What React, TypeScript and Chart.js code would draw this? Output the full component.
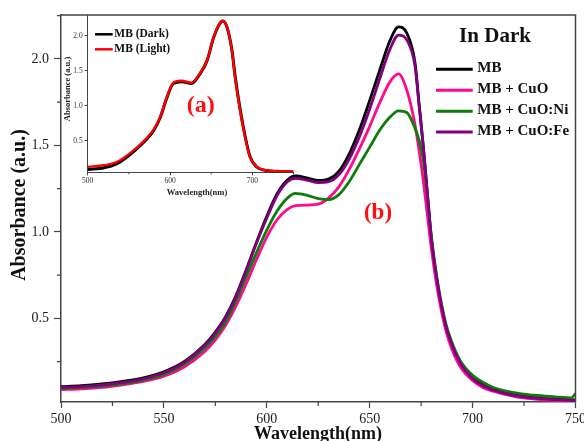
import React, { useEffect, useRef } from 'react';
import { Chart, registerables } from 'chart.js';

Chart.register(...registerables);

// ---------- main chart data ----------
const wavelengths = [500, 510, 520, 530, 540, 550, 560, 570, 575, 580, 585, 590, 595, 600, 605, 610, 614, 620, 625, 630, 635, 640, 645, 650, 655, 660, 664, 668, 672, 674, 676, 678, 680, 683, 687, 690, 694, 700, 705, 710, 720, 730, 740, 748, 750];
const mb = [0.105, 0.11, 0.12, 0.135, 0.155, 0.19, 0.25, 0.35, 0.42, 0.51, 0.63, 0.78, 0.94, 1.09, 1.22, 1.30, 1.323, 1.31, 1.297, 1.305, 1.35, 1.45, 1.59, 1.76, 1.94, 2.11, 2.185, 2.15, 1.98, 1.74, 1.50, 1.22, 0.95, 0.69, 0.45, 0.34, 0.24, 0.155, 0.115, 0.09, 0.06, 0.043, 0.034, 0.029, 0.028];
const mbCuO = [0.087, 0.092, 0.1, 0.115, 0.135, 0.165, 0.22, 0.31, 0.375, 0.46, 0.57, 0.70, 0.84, 0.97, 1.07, 1.13, 1.152, 1.155, 1.16, 1.195, 1.26, 1.36, 1.48, 1.61, 1.75, 1.87, 1.913, 1.82, 1.62, 1.47, 1.30, 1.10, 0.90, 0.66, 0.43, 0.32, 0.22, 0.14, 0.1, 0.078, 0.048, 0.033, 0.025, 0.021, 0.02];
const mbCuONi = [0.095, 0.1, 0.108, 0.122, 0.143, 0.175, 0.235, 0.33, 0.395, 0.48, 0.6, 0.74, 0.88, 1.01, 1.12, 1.195, 1.222, 1.21, 1.192, 1.186, 1.215, 1.29, 1.39, 1.49, 1.59, 1.665, 1.70, 1.69, 1.60, 1.53, 1.42, 1.21, 0.97, 0.71, 0.47, 0.36, 0.255, 0.17, 0.13, 0.1, 0.07, 0.055, 0.046, 0.04, 0.065];
const mbCuOFe = [0.1, 0.105, 0.115, 0.13, 0.15, 0.185, 0.245, 0.345, 0.415, 0.505, 0.625, 0.775, 0.935, 1.08, 1.21, 1.29, 1.31, 1.298, 1.285, 1.29, 1.33, 1.42, 1.55, 1.71, 1.89, 2.06, 2.138, 2.11, 1.96, 1.73, 1.50, 1.23, 0.96, 0.70, 0.455, 0.345, 0.24, 0.15, 0.11, 0.085, 0.055, 0.038, 0.03, 0.025, 0.024];

const seriesNames = ['MB', 'MB + CuO', 'MB + CuO:Ni', 'MB + CuO:Fe'];
const seriesColors = ['#000000', '#ff0a8c', '#0a7d0a', '#800080'];
const legendTitle = 'In Dark';

const xTicks = [500, 550, 600, 650, 700, 750];
const xMinorTicks = [525, 575, 625, 675, 725];
const yTicks = [0.5, 1.0, 1.5, 2.0];
const yMinorTicks = [0.25, 0.75, 1.25, 1.75, 2.25];

// ---------- inset data ----------
const insetWavelengths = [500, 520, 535, 550, 565, 580, 588, 596, 604, 614, 626, 636, 645, 653, 660, 664, 669, 675, 679, 685, 691, 697, 705, 717, 730, 750];
const insetDark = [0.09, 0.115, 0.17, 0.29, 0.445, 0.645, 0.83, 1.11, 1.32, 1.345, 1.32, 1.45, 1.645, 1.975, 2.165, 2.21, 2.13, 1.81, 1.43, 0.96, 0.58, 0.28, 0.13, 0.075, 0.06, 0.055];
const insetLight = [0.128, 0.15, 0.195, 0.31, 0.46, 0.66, 0.84, 1.12, 1.33, 1.357, 1.33, 1.46, 1.65, 1.98, 2.17, 2.214, 2.13, 1.80, 1.41, 0.94, 0.56, 0.27, 0.13, 0.08, 0.07, 0.065];
const insetNames = ['MB (Dark)', 'MB (Light)'];
const insetColors = ['#000000', '#ff0000'];
const insetXTicks = [500, 600, 700];
const insetXMinor = [550, 650, 750];
const insetYTicks = [0.5, 1.0, 1.5, 2.0];

const FONT = "'Liberation Serif', 'Times New Roman', Times, serif";
const AXIS = '#444444';

const mainDecor = {
  id: 'mainDecor',
  afterDraw(chart: any) {
    const { ctx, chartArea } = chart;
    const { left, right, top, bottom } = chartArea;
    const xs = chart.scales.x;
    const ys = chart.scales.y;
    ctx.save();
    // box
    ctx.strokeStyle = AXIS;
    ctx.lineWidth = 1.5;
    ctx.beginPath();
    ctx.moveTo(left - 0.75, top);
    ctx.lineTo(right, top);
    ctx.lineTo(right, bottom);
    ctx.stroke();
    // minor ticks
    ctx.lineWidth = 1.2;
    ctx.beginPath();
    xMinorTicks.forEach((v) => {
      const px = xs.getPixelForValue(v);
      ctx.moveTo(px, bottom);
      ctx.lineTo(px, bottom + 4);
    });
    yMinorTicks.forEach((v) => {
      const py = ys.getPixelForValue(v);
      ctx.moveTo(left - 4, py);
      ctx.lineTo(left, py);
    });
    ctx.stroke();
    // axis titles
    ctx.fillStyle = '#111';
    ctx.textAlign = 'center';
    ctx.textBaseline = 'alphabetic';
    ctx.font = `bold 18px ${FONT}`;
    ctx.fillText('Wavelength(nm)', 318, 439);
    ctx.save();
    ctx.font = `bold 20px ${FONT}`;
    ctx.translate(25, 205);
    ctx.rotate(-Math.PI / 2);
    ctx.fillText('Absorbance (a.u.)', 0, 0);
    ctx.restore();
    // legend
    ctx.font = `bold 21px ${FONT}`;
    ctx.fillText(legendTitle, 495, 42);
    ctx.font = `bold 15px ${FONT}`;
    ctx.textAlign = 'left';
    const baselines = [72.3, 93.3, 114.3, 135];
    seriesNames.forEach((name, i) => {
      const b = baselines[i];
      ctx.strokeStyle = seriesColors[i];
      ctx.lineWidth = 3;
      ctx.beginPath();
      ctx.moveTo(436, b - 3);
      ctx.lineTo(472.7, b - 3);
      ctx.stroke();
      ctx.fillStyle = '#111';
      ctx.fillText(name, 477.3, b);
    });
    // (b)
    ctx.fillStyle = '#ff1010';
    ctx.textAlign = 'center';
    ctx.font = `bold 23px ${FONT}`;
    ctx.fillText('(b)', 378, 218.7);
    ctx.restore();
  },
};

const insetDecor = {
  id: 'insetDecor',
  afterDraw(chart: any) {
    const { ctx, chartArea } = chart;
    const { bottom } = chartArea;
    const xs = chart.scales.x;
    ctx.save();
    ctx.strokeStyle = AXIS;
    ctx.lineWidth = 1;
    ctx.beginPath();
    insetXMinor.forEach((v) => {
      const px = xs.getPixelForValue(v);
      ctx.moveTo(px, bottom);
      ctx.lineTo(px, bottom + 2);
    });
    ctx.stroke();
    ctx.fillStyle = '#222';
    ctx.textAlign = 'center';
    ctx.textBaseline = 'alphabetic';
    ctx.font = `bold 8.5px ${FONT}`;
    ctx.fillText('Wavelength(nm)', 137, 184.5);
    ctx.save();
    ctx.translate(10.3, 79);
    ctx.rotate(-Math.PI / 2);
    ctx.fillText('Absorbance (a.u.)', 0, 0);
    ctx.restore();
    // legend
    ctx.textAlign = 'left';
    ctx.font = `bold 11.5px ${FONT}`;
    const baselines = [27.3, 42.3];
    insetNames.forEach((name, i) => {
      const b = baselines[i];
      ctx.strokeStyle = insetColors[i];
      ctx.lineWidth = 2.5;
      ctx.beginPath();
      ctx.moveTo(35, b - 3);
      ctx.lineTo(52.7, b - 3);
      ctx.stroke();
      ctx.fillStyle = '#111';
      ctx.fillText(name, 54.3, b);
    });
    ctx.fillStyle = '#ff1010';
    ctx.textAlign = 'center';
    ctx.font = `bold 24px ${FONT}`;
    ctx.fillText('(a)', 140.8, 102);
    ctx.restore();
  },
};

function toPoints(xs: number[], ys: number[]) {
  return xs.map((x, i) => ({ x, y: ys[i] }));
}

export default function App() {
  const mainRef = useRef<HTMLCanvasElement | null>(null);
  const insetRef = useRef<HTMLCanvasElement | null>(null);

  useEffect(() => {
    const mainSeries = [mb, mbCuO, mbCuONi, mbCuOFe];
    const main = new Chart(mainRef.current as HTMLCanvasElement, {
      type: 'line',
      data: {
        datasets: mainSeries.map((s, i) => ({
          label: seriesNames[i],
          data: toPoints(wavelengths, s),
          borderColor: seriesColors[i],
          backgroundColor: seriesColors[i],
          borderWidth: 2.8,
          pointRadius: 0,
          tension: 0.4,
          cubicInterpolationMode: 'monotone',
          fill: false,
          order: 4 - i,
        })),
      },
      options: {
        responsive: false,
        animation: false,
        events: [],
        layout: { padding: { left: 0, right: 8.5, top: 15, bottom: 0 } },
        plugins: { legend: { display: false }, tooltip: { enabled: false } },
        scales: {
          x: {
            type: 'linear',
            min: 500,
            max: 750,
            afterBuildTicks: (s: any) => {
              s.ticks = xTicks.map((v) => ({ value: v }));
            },
            afterFit: (s: any) => {
              s.height = 39;
              s.paddingLeft = 0;
              s.paddingRight = 0;
            },
            grid: { drawOnChartArea: false, drawTicks: true, tickLength: 6, tickColor: AXIS, tickWidth: 1.2 },
            border: { display: true, color: AXIS, width: 1.5 },
            ticks: {
              font: { family: FONT, size: 14 },
              color: '#1a1a1a',
              padding: 3,
              maxRotation: 0,
              autoSkip: false,
              callback: (v: any) => String(v),
            },
          },
          y: {
            type: 'linear',
            min: 0.016,
            max: 2.254,
            afterBuildTicks: (s: any) => {
              s.ticks = yTicks.map((v) => ({ value: v }));
            },
            afterFit: (s: any) => {
              s.width = 61;
              s.paddingTop = 0;
              s.paddingBottom = 0;
            },
            grid: { drawOnChartArea: false, drawTicks: true, tickLength: 7, tickColor: AXIS, tickWidth: 1.2 },
            border: { display: true, color: AXIS, width: 1.5 },
            ticks: {
              font: { family: FONT, size: 14 },
              color: '#1a1a1a',
              padding: 5,
              autoSkip: false,
              callback: (v: any) => Number(v).toFixed(1),
            },
          },
        },
      },
      plugins: [mainDecor],
    } as any);

    const insetSeries = [insetDark, insetLight];
    const inset = new Chart(insetRef.current as HTMLCanvasElement, {
      type: 'line',
      data: {
        datasets: insetSeries.map((s, i) => ({
          label: insetNames[i],
          data: toPoints(insetWavelengths, s),
          borderColor: insetColors[i],
          backgroundColor: insetColors[i],
          borderWidth: i === 0 ? 3 : 2.4,
          pointRadius: 0,
          tension: 0.4,
          cubicInterpolationMode: 'monotone',
          fill: false,
          order: 2 - i,
        })),
      },
      options: {
        responsive: false,
        animation: false,
        events: [],
        layout: { padding: { left: 0, right: 11.5, top: 5.5, bottom: 0 } },
        plugins: { legend: { display: false }, tooltip: { enabled: false } },
        scales: {
          x: {
            type: 'linear',
            min: 500,
            max: 750,
            afterBuildTicks: (s: any) => {
              s.ticks = insetXTicks.map((v) => ({ value: v }));
            },
            afterFit: (s: any) => {
              s.height = 27.7;
              s.paddingLeft = 0;
              s.paddingRight = 0;
            },
            grid: { drawOnChartArea: false, drawTicks: true, tickLength: 3, tickColor: AXIS, tickWidth: 1 },
            border: { display: true, color: AXIS, width: 1 },
            ticks: {
              font: { family: FONT, size: 7.5 },
              color: '#333',
              padding: 1.5,
              maxRotation: 0,
              autoSkip: false,
              callback: (v: any) => String(v),
            },
          },
          y: {
            type: 'linear',
            min: 0.05,
            max: 2.29,
            afterBuildTicks: (s: any) => {
              s.ticks = insetYTicks.map((v) => ({ value: v }));
            },
            afterFit: (s: any) => {
              s.width = 27.7;
              s.paddingTop = 0;
              s.paddingBottom = 0;
            },
            grid: { drawOnChartArea: false, drawTicks: true, tickLength: 3, tickColor: AXIS, tickWidth: 1 },
            border: { display: true, color: AXIS, width: 1 },
            ticks: {
              font: { family: FONT, size: 7.5 },
              color: '#333',
              padding: 2,
              autoSkip: false,
              callback: (v: any) => Number(v).toFixed(1),
            },
          },
        },
      },
      plugins: [insetDecor],
    } as any);

    return () => {
      main.destroy();
      inset.destroy();
    };
  }, []);

  return (
    <div style={{ position: 'absolute', left: 0, top: 0, width: 584, height: 441, background: '#fff' }}>
      <canvas ref={mainRef} width={584} height={441} style={{ position: 'absolute', left: 0, top: 0 }} />
      <canvas ref={insetRef} width={245} height={190} style={{ position: 'absolute', left: 60, top: 10 }} />
    </div>
  );
}
